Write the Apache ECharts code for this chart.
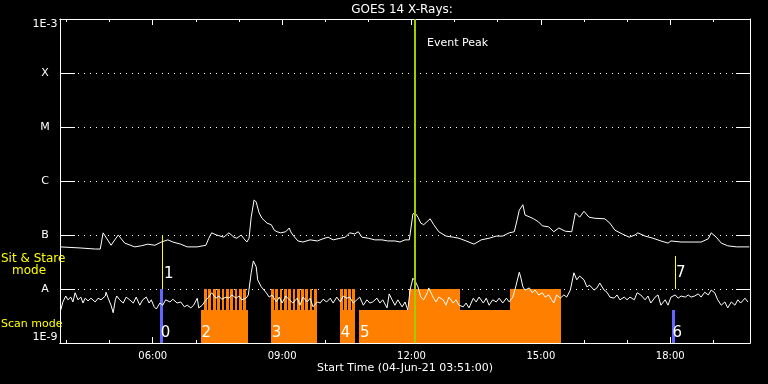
<!DOCTYPE html>
<html>
<head>
<meta charset="utf-8">
<script src="https://cdn.jsdelivr.net/npm/echarts@6/dist/echarts.min.js"></script>
<style>html,body{margin:0;padding:0;background:#000}#c{width:768px;height:384px}</style>
</head>
<body>
<div id="c"></div>
<script>
// Time in minutes of day (04-Jun-21), flux as log10(W/m^2)
const timeStart = 231;   // 03:51
const timeEnd = 1191;    // 19:51
const hourTicks = [240,300,360,420,480,540,600,660,720,780,840,900,960,1020,1080,1140];
const majorTicks = [360,540,720,900,1080];
const yTickLabels = {'-9':'1E-9','-8':'A','-7':'B','-6':'C','-5':'M','-4':'X','-3':'1E-3'};

// GOES 14 long channel (1-8 A)
const longChannel = [[231,-7.22],[259,-7.24],[280,-7.26],[287,-7.26],[291,-6.96],[302,-7.19],[312,-7.00],[321,-7.15],[335,-7.22],[344,-7.20],[353,-7.17],[363,-7.19],[372,-7.13],[381,-7.09],[388,-7.13],[399,-7.17],[408,-7.22],[422,-7.22],[434,-7.19],[438,-7.06],[442,-6.96],[449,-7.00],[459,-7.04],[466,-6.96],[473,-7.04],[477,-7.06],[483,-7.00],[487,-7.07],[491,-7.13],[494,-7.06],[497,-6.67],[501,-6.35],[504,-6.39],[508,-6.59],[512,-6.69],[519,-6.78],[525,-6.81],[529,-6.91],[533,-6.94],[538,-6.96],[545,-6.94],[550,-6.87],[552,-6.94],[555,-7.00],[562,-7.11],[569,-7.13],[579,-7.09],[589,-7.11],[597,-7.07],[604,-7.04],[611,-7.09],[621,-7.06],[628,-7.04],[634,-6.96],[641,-6.98],[646,-6.94],[651,-7.04],[660,-7.06],[669,-7.09],[679,-7.09],[687,-7.11],[697,-7.11],[704,-7.13],[711,-7.09],[717,-7.09],[722,-6.61],[725,-6.59],[729,-6.67],[733,-6.78],[737,-6.81],[746,-6.70],[751,-6.81],[758,-6.94],[768,-7.02],[778,-7.04],[786,-7.06],[796,-7.11],[807,-7.17],[817,-7.09],[828,-7.06],[838,-7.02],[847,-7.02],[856,-6.96],[863,-6.94],[867,-6.72],[870,-6.54],[875,-6.44],[878,-6.63],[885,-6.67],[890,-6.70],[897,-6.76],[902,-6.83],[911,-6.85],[918,-6.94],[925,-6.87],[934,-6.93],[943,-6.94],[948,-6.59],[954,-6.67],[960,-6.56],[967,-6.67],[975,-6.69],[989,-6.70],[996,-6.78],[1003,-6.91],[1013,-6.98],[1023,-7.04],[1031,-7.00],[1035,-6.96],[1045,-7.02],[1056,-7.06],[1067,-7.11],[1077,-7.15],[1081,-7.11],[1095,-7.13],[1109,-7.13],[1123,-7.13],[1133,-7.07],[1137,-6.96],[1144,-7.04],[1151,-7.15],[1160,-7.20],[1172,-7.22],[1184,-7.22],[1190,-7.22]];

// GOES 14 short channel (0.5-4 A)
const shortChannel = [[232,-8.39],[235,-8.24],[239,-8.13],[242,-8.20],[246,-8.15],[249,-8.24],[252,-8.07],[256,-8.20],[260,-8.15],[263,-8.26],[266,-8.17],[270,-8.22],[274,-8.17],[280,-8.24],[284,-8.17],[288,-8.20],[294,-8.13],[295,-8.06],[298,-8.17],[302,-8.30],[305,-8.44],[308,-8.20],[310,-8.13],[314,-8.20],[319,-8.26],[323,-8.15],[328,-8.20],[333,-8.26],[337,-8.15],[342,-8.30],[346,-8.20],[351,-8.15],[355,-8.26],[358,-8.20],[362,-8.33],[365,-8.37],[370,-8.26],[374,-8.30],[378,-8.20],[384,-8.24],[388,-8.19],[394,-8.26],[399,-8.24],[404,-8.33],[408,-8.30],[413,-8.35],[417,-8.30],[422,-8.17],[424,-8.35],[429,-8.30],[434,-8.20],[438,-8.15],[442,-8.07],[448,-8.17],[452,-8.13],[456,-8.19],[462,-8.15],[466,-8.17],[470,-8.11],[476,-8.17],[480,-8.13],[484,-8.20],[490,-8.17],[493,-8.11],[497,-7.70],[500,-7.48],[504,-7.59],[506,-7.83],[511,-7.96],[513,-7.93],[518,-8.07],[522,-8.15],[526,-8.11],[532,-8.24],[536,-8.15],[540,-8.26],[545,-8.13],[550,-8.20],[555,-8.26],[561,-8.17],[565,-8.30],[569,-8.15],[575,-8.24],[579,-8.17],[583,-8.33],[589,-8.24],[593,-8.26],[597,-8.19],[602,-8.24],[607,-8.17],[611,-8.26],[616,-8.15],[621,-8.24],[625,-8.13],[630,-8.17],[634,-8.15],[639,-8.26],[644,-8.20],[648,-8.15],[653,-8.30],[658,-8.20],[662,-8.26],[666,-8.24],[672,-8.17],[676,-8.26],[680,-8.20],[686,-8.35],[689,-8.09],[693,-8.20],[697,-8.30],[701,-8.20],[707,-8.33],[711,-8.24],[715,-8.39],[718,-8.02],[722,-7.80],[725,-7.85],[729,-7.96],[733,-8.15],[737,-8.20],[742,-8.07],[744,-7.98],[750,-8.15],[754,-8.24],[758,-8.15],[764,-8.20],[768,-8.30],[772,-8.15],[778,-8.26],[782,-8.20],[786,-8.30],[792,-8.33],[796,-8.26],[800,-8.35],[806,-8.17],[810,-8.24],[814,-8.15],[820,-8.26],[824,-8.17],[828,-8.30],[833,-8.20],[838,-8.24],[842,-8.17],[847,-8.26],[852,-8.17],[856,-8.24],[861,-8.15],[865,-7.96],[870,-7.69],[872,-7.78],[875,-7.96],[878,-8.02],[884,-7.98],[888,-8.07],[892,-8.02],[897,-8.11],[902,-8.07],[906,-8.15],[911,-8.11],[915,-8.20],[918,-8.26],[922,-8.11],[927,-8.17],[932,-8.11],[936,-8.15],[941,-8.02],[946,-7.70],[950,-7.83],[954,-7.76],[960,-7.83],[964,-7.96],[968,-7.93],[974,-8.02],[978,-7.98],[982,-7.89],[988,-8.02],[992,-8.06],[996,-8.15],[1002,-8.17],[1006,-8.11],[1010,-8.20],[1016,-8.15],[1020,-8.20],[1024,-8.15],[1030,-8.20],[1034,-8.07],[1039,-8.11],[1045,-8.20],[1049,-8.13],[1053,-8.26],[1059,-8.15],[1063,-8.11],[1067,-8.30],[1073,-8.20],[1077,-8.30],[1081,-8.15],[1087,-8.11],[1091,-8.17],[1095,-8.13],[1101,-8.15],[1105,-8.11],[1109,-8.15],[1114,-8.13],[1119,-8.09],[1123,-8.15],[1128,-8.06],[1133,-8.11],[1137,-8.02],[1142,-8.07],[1146,-8.20],[1151,-8.30],[1156,-8.24],[1160,-8.35],[1165,-8.24],[1170,-8.30],[1174,-8.20],[1178,-8.26],[1184,-8.17],[1188,-8.24]];

// Scan mode blocks: [start, end, top level]
const scanBlocks = [[427,492,-8.39],[524,589,-8.39],[621,641,-8.39],[647,717,-8.39],[717,788,-8.0],[788,857,-8.39],[857,928,-8.0]];
// Raster steps rising to the A level: [start, end]
const rasterSteps = [[431.3,435.1],[437.6,441.4],[443.9,447.7],[449.4,453.2],[455.7,459.5],[462,465.8],[467.5,471.3],[473.8,477.6],[480,483.8],[485.6,489.2],
  [524.6,528.4],[530.6,534.4],[536.5,540.3],[542.5,546.3],[548.5,552.3],[554.5,558.3],[560.5,564.3],[566.4,570.2],[572.4,576.2],[578.4,582.2],[584.4,588.2],
  [620.6,624.4],[626.3,630.1],[631.8,635.6],[637.4,641.2]];
// Sit & stare markers (blue): [start, end, top]
const stareBars = [[370.1,374.3,-8.0],[1082.5,1086.7,-8.39]];
// Yellow markers: [time, from, to]
const yellowMarks = [[373.4,-7.0,-8.0],[1086.9,-7.39,-8.0]];
const eventPeakTime = 725.6;
// Observation numbers: [time, level, text]
const obsLabels = [[371,-8.81,'0'],[375.7,-7.72,'1'],[428,-8.81,'2'],[525.5,-8.81,'3'],[621.5,-8.81,'4'],[648.4,-8.81,'5'],[1083,-8.81,'6'],[1088,-7.7,'7']];

const FONT = '"DejaVu Sans", sans-serif';
const chart = echarts.init(document.getElementById('c'), null, {renderer:'canvas'});

function hhmm(v){const h=Math.floor(v/60), m=Math.round(v%60);return (h<10?'0':'')+h+':'+(m<10?'0':'')+m;}

const axisCommon = {type:'value', min:timeStart, max:timeEnd, splitLine:{show:false},
  axisLine:{show:true, lineStyle:{color:'#fff', width:1}}};

function rectRender(color, fixedTop){
  return function(params, api){
    const top = fixedTop !== undefined ? fixedTop : api.value(2);
    const p0 = api.coord([api.value(0), top]);
    const p1 = api.coord([api.value(1), -9]);
    const x0 = Math.round(p0[0]), x1 = Math.round(p1[0]);
    return {type:'rect', shape:{x:x0, y:Math.round(p0[1]), width:Math.max(1,x1-x0), height:Math.round(p1[1])-Math.round(p0[1])}, style:{fill:color}};
  };
}

chart.setOption({
  backgroundColor:'#000',
  animation:false,
  grid:{left:60, top:19, right:18, bottom:41, containLabel:false},
  xAxis:[
    Object.assign({}, axisCommon, {position:'bottom',
      axisTick:{show:true, inside:true, length:3, lineStyle:{color:'#fff'}, customValues:hourTicks},
      axisLabel:{show:true, color:'#fff', fontFamily:FONT, fontSize:10, margin:8, customValues:majorTicks, formatter:hhmm}}),
    Object.assign({}, axisCommon, {position:'bottom',
      axisTick:{show:true, inside:true, length:6, lineStyle:{color:'#fff'}, customValues:majorTicks},
      axisLabel:{show:false}}),
    Object.assign({}, axisCommon, {position:'top',
      axisTick:{show:true, inside:true, length:3, lineStyle:{color:'#fff'}, customValues:hourTicks},
      axisLabel:{show:false}}),
    Object.assign({}, axisCommon, {position:'top',
      axisTick:{show:true, inside:true, length:6, lineStyle:{color:'#fff'}, customValues:majorTicks},
      axisLabel:{show:false}})
  ],
  yAxis:[
    {type:'value', position:'left', min:-9, max:-3, interval:1,
      axisLine:{show:true, lineStyle:{color:'#fff'}},
      axisTick:{show:true, inside:true, length:15, lineStyle:{color:'#fff'}},
      axisLabel:{show:true, color:'#fff', fontFamily:FONT, fontSize:11, margin:15, align:'center',
        verticalAlignMinLabel:'bottom', verticalAlignMaxLabel:'top',
        formatter:function(v){return yTickLabels[String(Math.round(v))]||'';}},
      splitLine:{show:true, lineStyle:{color:'#fff', width:1, type:[1,5]}}},
    {type:'value', position:'right', min:-9, max:-3, interval:1,
      axisLine:{show:true, lineStyle:{color:'#fff'}},
      axisTick:{show:true, inside:true, length:14, lineStyle:{color:'#fff'}},
      axisLabel:{show:false}, splitLine:{show:false}}
  ],
  graphic:[
    {type:'text', x:402, y:10, style:{text:'GOES 14 X-Rays:', fill:'#fff', font:'12px '+FONT, textAlign:'center', textVerticalAlign:'middle'}},
    {type:'text', x:427, y:43, style:{text:'Event Peak', fill:'#fff', font:'11px '+FONT, textAlign:'left', textVerticalAlign:'middle'}},
    {type:'text', x:1, y:259, style:{text:'Sit & Stare', fill:'#ffff00', font:'12px '+FONT, textAlign:'left', textVerticalAlign:'middle'}},
    {type:'text', x:12, y:271, style:{text:'mode', fill:'#ffff00', font:'12px '+FONT, textAlign:'left', textVerticalAlign:'middle'}},
    {type:'text', x:1, y:324, style:{text:'Scan mode', fill:'#ffff00', font:'11px '+FONT, textAlign:'left', textVerticalAlign:'middle'}},
    {type:'text', x:405, y:368, style:{text:'Start Time (04-Jun-21 03:51:00)', fill:'#fff', font:'11px '+FONT, textAlign:'center', textVerticalAlign:'middle'}}
  ],
  series:[
    {type:'custom', name:'scan', xAxisIndex:0, yAxisIndex:0, z:1, encode:{x:[0,1], y:2},
      renderItem:rectRender('#ff8000'), data:scanBlocks},
    {type:'custom', name:'raster', xAxisIndex:0, yAxisIndex:0, z:1, encode:{x:[0,1]},
      renderItem:rectRender('#ff8000', -8.0), data:rasterSteps},
    {type:'custom', name:'stare', xAxisIndex:0, yAxisIndex:0, z:2, encode:{x:[0,1], y:2},
      renderItem:rectRender('#6464ff'), data:stareBars},
    {type:'custom', name:'yellow', xAxisIndex:0, yAxisIndex:0, z:2, encode:{x:0, y:[1,2]},
      renderItem:function(params, api){
        const a = api.coord([api.value(0), api.value(1)]);
        const b = api.coord([api.value(0), api.value(2)]);
        const x = Math.round(a[0]) + 0.5;
        return {type:'line', shape:{x1:x, y1:Math.round(a[1]), x2:x, y2:Math.round(b[1])}, style:{stroke:'#ffff00', lineWidth:1}};
      }, data:yellowMarks},
    {type:'line', name:'long', xAxisIndex:0, yAxisIndex:0, z:3, data:longChannel, showSymbol:false, symbol:'none',
      lineStyle:{color:'#fff', width:1}},
    {type:'line', name:'short', xAxisIndex:0, yAxisIndex:0, z:3, data:shortChannel, showSymbol:false, symbol:'none',
      lineStyle:{color:'#fff', width:1}},
    {type:'custom', name:'peak', xAxisIndex:0, yAxisIndex:0, z:4, encode:{x:0},
      renderItem:function(params, api){
        const a = api.coord([api.value(0), -3]);
        const b = api.coord([api.value(0), -9]);
        const x = Math.round(a[0]);
        return {type:'line', shape:{x1:x, y1:a[1], x2:x, y2:b[1]}, style:{stroke:'#a0cc00', lineWidth:2}};
      }, data:[[eventPeakTime]]},
    {type:'custom', name:'labels', xAxisIndex:0, yAxisIndex:0, z:5, encode:{x:0, y:1},
      renderItem:function(params, api){
        const p = api.coord([api.value(0), api.value(1)]);
        return {type:'text', x:p[0], y:p[1], style:{text:obsLabels[params.dataIndex][2], fill:'#fff', font:'15px '+FONT, textAlign:'left', textVerticalAlign:'middle'}};
      }, data:obsLabels.map(d=>[d[0], d[1]])}
  ]
});
</script>
</body>
</html>
